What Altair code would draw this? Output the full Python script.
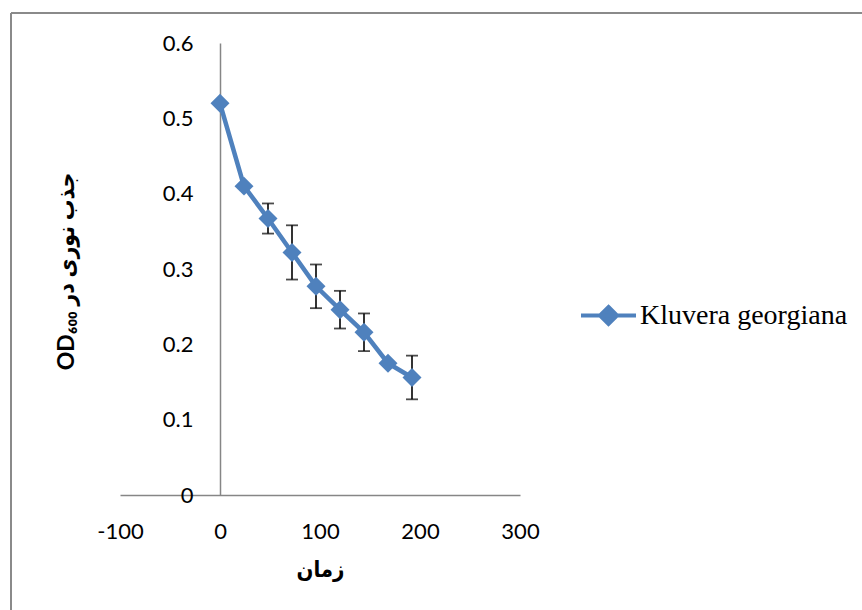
import altair as alt
import pandas as pd

# ---- data ----
time_h = [0, 24, 48, 72, 96, 120, 144, 168, 192]
od600 = [0.52, 0.41, 0.367, 0.322, 0.277, 0.246, 0.216, 0.175, 0.156]
od_err = [0, 0, 0.02, 0.036, 0.029, 0.025, 0.025, 0, 0.029]
series_name = "Kluvera georgiana"
x_ticks = [-100, 0, 100, 200, 300]
y_ticks = [0, 0.1, 0.2, 0.3, 0.4, 0.5, 0.6]
x_title = "زمان"
y_title = "OD₆₀₀ جذب نوری در"

BLUE = "#4F81BD"
GRAY = "#868686"
FONT = "Lato"
TITLE_FONT = "Lato, DejaVu Sans Condensed, DejaVu Sans"

df = pd.DataFrame({
    "t": time_h,
    "od": od600,
    "lo": [v - e for v, e in zip(od600, od_err)],
    "hi": [v + e for v, e in zip(od600, od_err)],
    "series": [series_name] * len(time_h),
})

x_axis = alt.Axis(
    values=x_ticks, labelExpr="'' + datum.value", grid=False, ticks=False,
    domainColor=GRAY, domainWidth=1.5, labelFont=FONT, labelFontSize=22,
    labelColor="#000", labelPadding=26, labelFlush=False,
    title=x_title, titleFont=TITLE_FONT, titleFontSize=22, titleFontWeight="bold",
    titleColor="#000", titlePadding=17,
)
y_axis = alt.Axis(
    values=y_ticks, labelExpr="'' + datum.value", grid=False, ticks=False,
    domainColor=GRAY, domainWidth=1.5, labelFont=FONT, labelFontSize=22,
    labelColor="#000", labelPadding=27, offset=-100, labelFlush=False,
    title=y_title, titleFont=TITLE_FONT, titleFontSize=23, titleFontWeight="bold",
    titleColor="#000", titleX=-154, titleY=228, titleBaseline="middle",
)

y_scale = alt.Scale(domain=[0, 0.6], nice=False)
x_enc = alt.X("t:Q", scale=alt.Scale(domain=[-100, 300], nice=False, zero=False), axis=x_axis)
y_enc = alt.Y("od:Q", scale=y_scale, axis=y_axis)

color_enc = alt.Color(
    "series:N",
    scale=alt.Scale(domain=[series_name], range=[BLUE]),
    legend=alt.Legend(
        title=None, orient="none", legendX=459, legendY=243,
        symbolType="M-1,0H1M0,-0.31L0.31,0L0,0.31L-0.31,0Z",
        symbolSize=3025, symbolStrokeWidth=4, symbolFillColor=BLUE,
        symbolStrokeColor=BLUE, symbolOpacity=1,
        labelFont="Liberation Serif", labelFontSize=28, labelColor="#000",
        labelLimit=0, labelOffset=2,
    ),
)

base = alt.Chart(df)

err_rule = base.mark_rule(color="#000", strokeWidth=1.6).encode(
    x=x_enc, y=alt.Y("lo:Q", scale=y_scale, axis=y_axis), y2="hi:Q"
)
cap_lo = base.mark_tick(color="#000", orient="horizontal", size=12, thickness=1.8).encode(
    x=x_enc, y=alt.Y("lo:Q", scale=y_scale, axis=y_axis)
)
cap_hi = base.mark_tick(color="#000", orient="horizontal", size=12, thickness=1.8).encode(
    x=x_enc, y=alt.Y("hi:Q", scale=y_scale, axis=y_axis)
)
line = base.mark_line(strokeWidth=4.5).encode(x=x_enc, y=y_enc, color=color_enc)
points = base.mark_point(shape="diamond", filled=True, size=360, opacity=1).encode(
    x=x_enc, y=y_enc, color=color_enc
)

frame_df = pd.DataFrame({"a": [0]})
frame_top = alt.Chart(frame_df).mark_rule(color="#8a8a8a", strokeWidth=2).encode(
    x=alt.value(-109), x2=alt.value(742), y=alt.value(-30)
)
frame_left = alt.Chart(frame_df).mark_rule(color="#8a8a8a", strokeWidth=2).encode(
    x=alt.value(-109), y=alt.value(-30), y2=alt.value(567)
)

chart = alt.layer(err_rule, cap_lo, cap_hi, line, points, frame_top, frame_left).properties(
    width=400, height=452,
    autosize=alt.AutoSizeParams(type="none"),
    padding={"left": 120, "top": 43, "right": 342, "bottom": 115},
    background="white",
).configure_view(stroke=None)

chart.save("out.html", embed_options={"renderer": "svg", "actions": False})
